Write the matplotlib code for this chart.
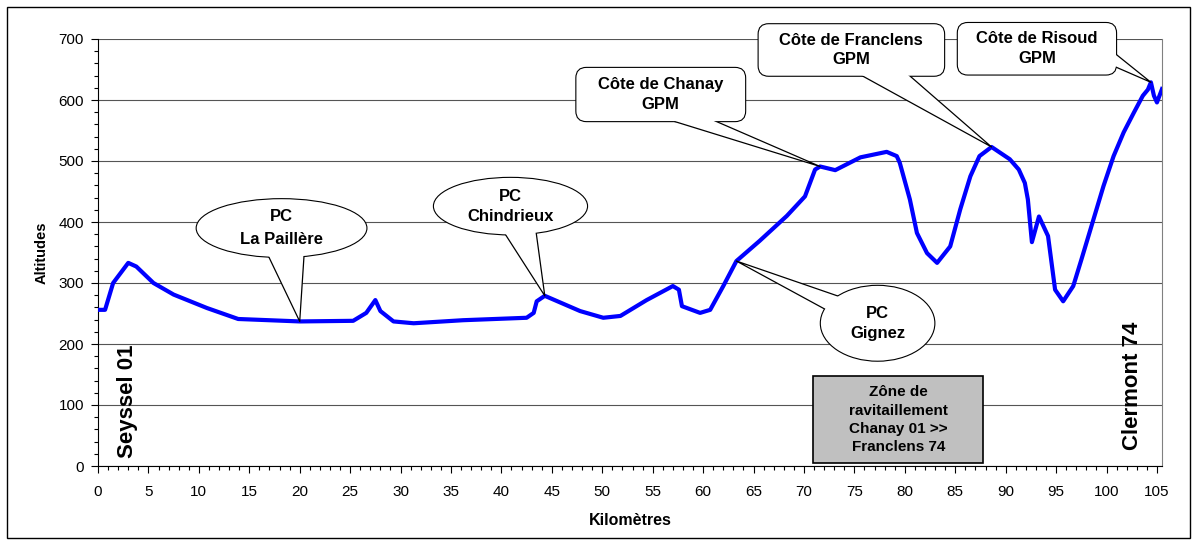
import numpy as np
import matplotlib
matplotlib.use("Agg")
import matplotlib.pyplot as plt
from matplotlib.patches import Rectangle, BoxStyle
from matplotlib.path import Path
from matplotlib.transforms import Affine2D
from matplotlib.ticker import MultipleLocator

plt.rcParams['font.family'] = ['Liberation Sans', 'DejaVu Sans']

# profil : distance (km) / altitude (m)
km = np.array([0, 0.7, 1.5, 3.0, 3.8, 5.5, 7.5, 10.8, 13.9, 20.0,
               25.3, 26.6, 27.5, 28.0, 29.3, 31.3, 36.2, 42.5, 43.2, 43.5,
               44.3, 47.8, 50.1, 51.8, 54.4, 57.0, 57.6, 57.9, 59.7, 60.7,
               62.0, 63.3, 65.6, 68.3, 70.1, 71.1, 71.6, 73.1, 75.6, 78.2,
               79.2, 79.5, 80.5, 81.2, 82.2, 83.2, 84.5, 85.5, 86.5, 87.4,
               88.6, 90.4, 91.3, 91.9, 92.2, 92.6, 93.3, 94.2, 94.9, 95.7,
               96.7, 97.5, 98.7, 99.7, 100.7, 101.7, 102.7, 103.6, 104.1, 104.4,
               104.7, 105.0, 105.5])
alt = np.array([256, 256, 300, 333, 327, 300, 281, 259, 241, 237,
                238, 251, 272, 254, 237, 234, 239, 243, 251, 270,
                279, 254, 243, 246, 272, 295, 289, 262, 251, 256,
                295, 336, 369, 410, 442, 486, 491, 485, 506, 515,
                508, 497, 437, 382, 349, 333, 360, 421, 475, 508,
                523, 503, 486, 464, 437, 367, 409, 377, 289, 270,
                295, 338, 404, 459, 508, 547, 579, 607, 617, 629,
                607, 596, 618])

# points de passage : texte, km du point, position du texte (km, m)
pc_labels = ["PC\nLa Paillère", "PC\nChindrieux", "PC\nGignez"]
pc_km = [20.0, 44.3, 63.3]
pc_text = [(18.2, 390), (40.9, 426), (77.3, 234)]

gpm_labels = ["Côte de Chanay\nGPM", "Côte de Franclens\nGPM", "Côte de Risoud\nGPM"]
gpm_km = [71.6, 88.6, 104.4]
gpm_text = [(55.8, 609), (74.7, 682), (93.1, 684)]


def ellipse_box(px, py):
    def f(x0, y0, width, height, m):
        a = width / 2 + px * m
        b = height / 2 + py * m
        tr = Affine2D().scale(a, b).translate(x0 + width / 2, y0 + height / 2)
        return tr.transform_path(Path.unit_circle())
    return f


def round_box(px, py, r=0.6):
    def f(x0, y0, width, height, m):
        return BoxStyle.Round(pad=0, rounding_size=r)(
            x0 - px * m, y0 - py * m, width + 2 * px * m, height + 2 * py * m, m)
    return f


fig = plt.figure(figsize=(11.96, 5.44), dpi=100)
ax = fig.add_axes([98/1196, 1-466/544, 1064/1196, 427/544])

ax.plot(km, alt, color='#0000ff', lw=3, solid_joinstyle='round', zorder=3)

ax.set_xlim(0, 105.5)
ax.set_ylim(0, 700)
ax.xaxis.set_major_locator(MultipleLocator(5))
ax.xaxis.set_minor_locator(MultipleLocator(1))
ax.yaxis.set_major_locator(MultipleLocator(100))
ax.yaxis.set_minor_locator(MultipleLocator(20))
ax.tick_params(axis='both', which='major', length=5, width=0.8, labelsize=11, direction='out')
ax.tick_params(axis='both', which='minor', length=3, width=0.8, direction='out')
ax.tick_params(axis='x', which='major', pad=9)
ax.tick_params(axis='y', which='major', pad=5)
ax.grid(axis='y', which='major', color='#555555', lw=0.8)
ax.set_axisbelow(True)
ax.spines['top'].set_visible(False)
ax.spines['right'].set_color('#808080')

ax.set_xlabel('Kilomètres', fontsize=11.5, fontweight='bold', labelpad=10)
ax.set_ylabel('Altitudes', fontsize=10.5, fontweight='bold', labelpad=7)


def callout(text, tip, pos, style, relpos, tail, ls=1.4):
    kw = dict(xy=tip, xytext=pos, xycoords='data', textcoords='data',
              ha='center', va='center', fontsize=12, fontweight='bold',
              linespacing=ls, annotation_clip=False)
    # contour de la bulle
    ax.annotate(text, bbox=dict(boxstyle=style, fc='white', ec='black', lw=1.6), zorder=5, **kw)
    # pointe + fond blanc qui masque le raccord
    ax.annotate(text, bbox=dict(boxstyle=style, fc='white', ec='none'),
                arrowprops=dict(arrowstyle='wedge,tail_width=%s,shrink_factor=0.5' % tail,
                                fc='white', ec='black', lw=0.9, patchA=None,
                                shrinkA=0, shrinkB=0, relpos=relpos),
                zorder=6, **kw)


pc_pad = [(2.6, 0.6), (2.0, 0.65), (1.75, 1.2)]
pc_rel = [(0.53, 0.18), (0.55, 0.26), (0.1, 0.78)]
pc_tail = [2.6, 2.3, 1.3]
pc_ls = [1.65, 1.4, 1.4]
for lab, k, pos, pd, rp, tw, ls in zip(pc_labels, pc_km, pc_text, pc_pad, pc_rel, pc_tail, pc_ls):
    callout(lab, (k, np.interp(k, km, alt)), pos, ellipse_box(*pd), rp, tw, ls)

gpm_pad = [(1.3, 0.55), (1.25, 0.5), (1.1, 0.5)]
gpm_rel = [(0.52, 0.1), (0.63, 0.15), (1.0, 0.46)]
gpm_tail = [1.1, 1.9, 1.0]
for lab, k, pos, pd, rp, tw in zip(gpm_labels, gpm_km, gpm_text, gpm_pad, gpm_rel, gpm_tail):
    callout(lab, (k, np.interp(k, km, alt)), pos, round_box(*pd), rp, tw)

# zone de ravitaillement
ax.add_patch(Rectangle((70.9, 5), 16.9, 143, fc='#c0c0c0', ec='black', lw=1.2, zorder=4))
ax.text(79.35, 76, 'Zône de\nravitaillement\nChanay 01 >>\nFranclens 74', ha='center', va='center',
        fontsize=11, fontweight='bold', linespacing=1.38, zorder=5)

# villes départ / arrivée
ax.text(2.9, 13, 'Seyssel 01', rotation=90, ha='center', va='bottom',
        fontsize=16, fontweight='bold', zorder=5)
ax.text(102.6, 26, 'Clermont 74', rotation=90, ha='center', va='bottom',
        fontsize=16, fontweight='bold', zorder=5)

fig.add_artist(Rectangle((7/1196, 6/544), 1183/1196, 531/544, transform=fig.transFigure,
                         fill=False, ec='black', lw=1))

fig.savefig('out.png', dpi=100)
